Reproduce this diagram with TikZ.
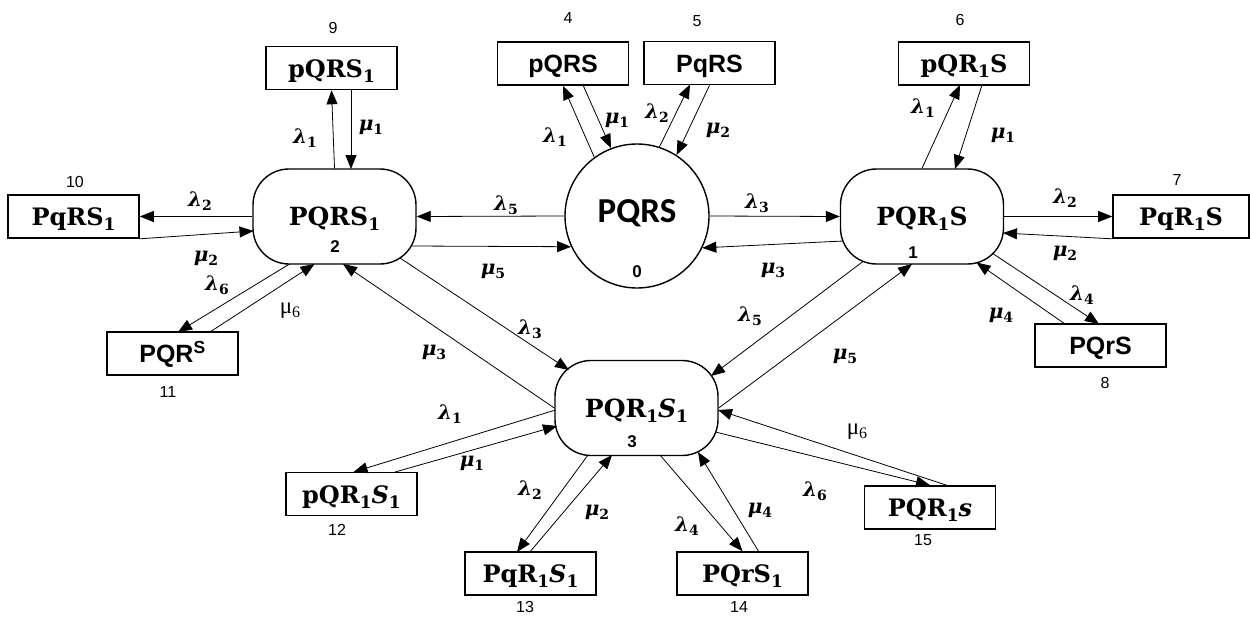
\documentclass[tikz,border=0pt]{standalone}
\usepackage{fontspec}
\newfontfamily\lsans{Liberation Sans}
\newfontfamily\carl{Carlito}
\newfontfamily\lserif{Liberation Serif}
\newfontfamily\dvs{DejaVu Serif}
\usetikzlibrary{arrows.meta,calc}
\newcommand{\upmuSix}{{\lserif\fontsize{23}{26}\selectfont μ\raisebox{-4pt}{\fontsize{16}{18}\selectfont 6}}}
\newcommand{\rl}[1]{{\dvs\bfseries\itshape λ\raisebox{-4pt}{\upshape\fontsize{14}{16}\selectfont #1}}}
\newcommand{\rmu}[1]{{\dvs\bfseries\itshape μ\raisebox{-4pt}{\upshape\fontsize{14}{16}\selectfont #1}}}
\newcommand{\sub}[1]{\raisebox{-5pt}{\fontsize{17}{19}\selectfont #1}}
\tikzset{
  box/.style={draw, line width=1.6pt, minimum width=131pt, minimum height=43pt, inner sep=0pt, text height=18pt, text depth=0pt},
  stnode/.style={draw, line width=1.4pt, rounded corners=36pt, minimum width=163pt, minimum height=95pt, inner sep=0pt, text height=18pt, text depth=0pt, font=\fontsize{25}{30}\dvs\bfseries},
  sertext/.style={font=\fontsize{24}{28}\dvs\bfseries},
  santext/.style={font=\fontsize{25}{30}\lsans\bfseries},
  num/.style={font=\fontsize{16}{18}\lsans, inner sep=0pt},
  snum/.style={font=\fontsize{17}{19}\lsans\bfseries, inner sep=0pt},
  lab/.style={font=\fontsize{20}{24}\selectfont, inner sep=0pt},
  arr/.style={-{Triangle[length=14pt,width=11pt]}, line width=0.8pt},
}
\begin{document}
\begin{tikzpicture}[x=1pt,y=-1pt]
\useasboundingbox (0,0) rectangle (1250,616);
% states
\node[draw, circle, line width=1.4pt, minimum size=144pt, inner sep=0pt, text height=22.5pt, text depth=10pt, font=\fontsize{35}{40}\carl\bfseries] (s0) at (637,216) {PQRS};
\node[stnode] (s2) at (334.5,216.5) {PQRS\sub{1}};
\node[stnode] (s1) at (922,216.5) {PQR\sub{1}S};
\node[stnode] (s3) at (636.5,408) {PQR\sub{1}\textit{S}\sub{1}};
\node[snum] (n0) at (637,272) {0};
\node[snum] (n2) at (335,247) {2};
\node[snum] (n1) at (913,253) {1};
\node[snum] (n3) at (632,442) {3};
% boxes
\node[box,sertext] (b9) at (331.5,68) {pQRS\sub{1}};
\node[box,santext] (b4) at (563,63.5) {pQRS};
\node[box,santext] (b5) at (709.5,63) {PqRS};
\node[box,sertext] (b6) at (964,63.5) {pQR\sub{1}S};
\node[box,sertext,minimum width=136pt] (b7) at (1181,216.5) {PqR\sub{1}S};
\node[box,sertext] (b10) at (73.5,216.5) {PqRS\sub{1}};
\node[box,santext] (b11) at (172.5,353.5) {PQR\textsuperscript{S}};
\node[box,santext] (b8) at (1100.5,345.5) {PQrS};
\node[box,sertext] (b12) at (351.5,494) {pQR\sub{1}\textit{S}\sub{1}};
\node[box,sertext] (b13) at (530.5,573.5) {PqR\sub{1}\textit{S}\sub{1}};
\node[box,sertext] (b14) at (742.5,573.5) {PQrS\sub{1}};
\node[box,sertext] (b15) at (930,507.5) {PQR\sub{1}\textit{s}};
% box numbers
\node[num] (m9) at (333,28) {9};
\node[num] (m4) at (568,18) {4};
\node[num] (m5) at (697,21) {5};
\node[num] (m6) at (960,20) {6};
\node[num] (m7) at (1177,180) {7};
\node[num] (m10) at (75,182) {10};
\node[num] (m11) at (168,392) {11};
\node[num] (m8) at (1105,383) {8};
\node[num] (m12) at (337,530) {12};
\node[num] (m13) at (525,607) {13};
\node[num] (m14) at (739,607) {14};
\node[num] (m15) at (923,540) {15};
% connectors
\draw[arr] (s2.north) -- (b9.south);
\draw[arr] ($(b9)+(19.5,21.5)$) -- ($(s2)+(16.5,-47.5)$);
\draw[arr] (s2.west) -- (b10.east);
\draw[arr] (b10.south east) -- ($(s2)+(-81,14.5)$);
\draw[arr] ($(s2)+(-45,47.5)$) -- ($(b11)+(5.5,-21.5)$);
\draw[arr] ($(b11)+(37.5,-21.5)$) -- ($(s2)+(-20,47.5)$);
\draw[arr] (s0.180) -- (s2.east);
\draw[arr] ($(s2)+(77,29.5)$) -- (s0.205);
\draw[arr] (s0.0) -- (s1.west);
\draw[arr] ($(s1)+(-79,24.5)$) -- (s0.334);
\draw[arr] (s0.126) -- (b4.south);
\draw[arr] ($(b4)+(20,21.5)$) -- (s0.111);
\draw[arr] (s0.72) -- ($(b5)+(-19.5,21.5)$);
\draw[arr] (b5.south) -- (s0.57);
\draw[arr] (s1.north) -- ($(b6)+(-4,21.5)$);
\draw[arr] ($(b6)+(18,21.5)$) -- ($(s1)+(33,-47.5)$);
\draw[arr] (s1.east) -- (b7.west);
\draw[arr] (b7.south west) -- ($(s1)+(81,16.5)$);
\draw[arr] ($(s1)+(70,36.5)$) -- ($(b8)+(-1.5,-21.5)$);
\draw[arr] ($(b8)+(-35.5,-21.5)$) -- ($(s1)+(54.5,46)$);
\draw[arr] ($(s1)+(-59,45)$) -- ($(s3)+(74.5,-32)$);
\draw[arr] (s3.east) -- ($(s1)+(-10,47.5)$);
\draw[arr] ($(s2)+(65.5,41.5)$) -- ($(s3)+(-67.5,-38)$);
\draw[arr] (s3.west) -- ($(s2)+(8.5,47.5)$);
\draw[arr] ($(s3)+(-81,2)$) -- ($(b12)+(2,-22)$);
\draw[arr] ($(b12)+(43.5,-22)$) -- ($(s3)+(-79.5,18)$);
\draw[arr] ($(s3)+(-48.5,47)$) -- ($(b13)+(-13.5,-21.5)$);
\draw[arr] (b13.north) -- ($(s3)+(-24.5,47)$);
\draw[arr] ($(s3)+(23.5,47)$) -- (b14.north);
\draw[arr] ($(b14)+(16.5,-21.5)$) -- ($(s3)+(61.5,44)$);
\draw[arr] ($(b15)+(19,-21.5)$) -- ($(s3)+(81.5,2)$);
\draw[arr] ($(s3)+(79,24)$) -- (b15.north);
% rate labels
\node[lab] (a1) at (305,138) {\rl{1}};
\node[lab] (a2) at (371,127) {\rmu{1}};
\node[lab] (a3) at (200,201) {\rl{2}};
\node[lab] (a4) at (206,258) {\rmu{2}};
\node[lab] (a5) at (217,285) {\rl{6}};
\node[lab] (a6) at (290,311) {\upmuSix};
\node[lab] (a7) at (506,205) {\rl{5}};
\node[lab] (a8) at (493,271) {\rmu{5}};
\node[lab] (a9) at (757,203) {\rl{3}};
\node[lab] (a10) at (773,270) {\rmu{3}};
\node[lab] (a11) at (555,137) {\rl{1}};
\node[lab] (a12) at (617,120) {\rmu{1}};
\node[lab] (a13) at (657,113) {\rl{2}};
\node[lab] (a14) at (718,130) {\rmu{2}};
\node[lab] (a15) at (923,108) {\rl{1}};
\node[lab] (a16) at (1003,135) {\rmu{1}};
\node[lab] (a17) at (1065,198) {\rl{2}};
\node[lab] (a18) at (1065,253) {\rmu{2}};
\node[lab] (a19) at (1082,295) {\rl{4}};
\node[lab] (a20) at (1001,315) {\rmu{4}};
\node[lab] (a21) at (750,316) {\rl{5}};
\node[lab] (a22) at (845,356) {\rmu{5}};
\node[lab] (a23) at (530,329) {\rl{3}};
\node[lab] (a24) at (434,352) {\rmu{3}};
\node[lab] (a25) at (450,414) {\rl{1}};
\node[lab] (a26) at (472,463) {\rmu{1}};
\node[lab] (a27) at (530,490) {\rl{2}};
\node[lab] (a28) at (597,512) {\rmu{2}};
\node[lab] (a29) at (687,526) {\rl{4}};
\node[lab] (a30) at (760,510) {\rmu{4}};
\node[lab] (a31) at (857,432) {\upmuSix};
\node[lab] (a32) at (815,491) {\rl{6}};
\end{tikzpicture}
\end{document}
